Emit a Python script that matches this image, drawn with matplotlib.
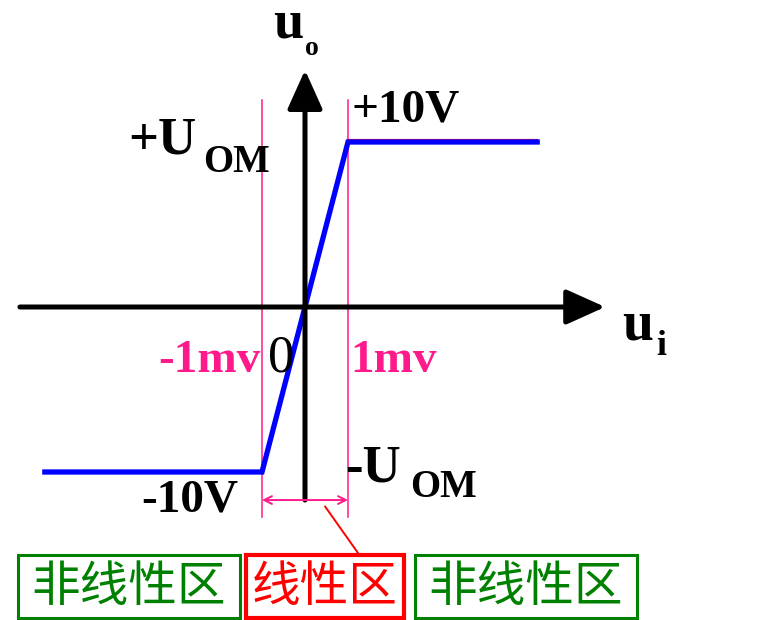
import matplotlib.pyplot as plt
from matplotlib.patches import Rectangle
import matplotlib.transforms as mtransforms

# 传输特性数据 (ui 单位 mV, uo 单位 V)
ui_curve = [-6.05, -1, 1, 5.4]
uo_curve = [-10, -10, 10, 10]
ui_limit = [-1, 1]
uo_sat = 10
region_labels = ['非线性区', '线性区', '非线性区']
region_colors = ['#008000', '#ff0000', '#008000']

W, H = 762, 620
pink = '#ff1a8c'
serif = 'Liberation Serif'
cjk = ['Noto Sans CJK SC', 'DejaVu Sans']

fig = plt.figure(figsize=(W / 100, H / 100), dpi=100)
ax = fig.add_axes([0, 0, 1, 1])
ax.axis('off')
# origem em (305, 307) px, 43 px/mV, 16.5 px/V
ax.set_xlim(-305 / 43, (W - 305) / 43)
ax.set_ylim(-(H - 307) / 16.5, 307 / 16.5)


def fx(px):
    return px / W


def fy(py):
    return 1 - py / H


# eixos com seta
arrow = dict(arrowstyle='-|>,head_length=0.6,head_width=0.27', lw=3.6,
             color='black', mutation_scale=40, shrinkA=0, shrinkB=0)
ax.annotate('', xy=(6.98, 0), xytext=(-6.63, 0), arrowprops=arrow)
ax.annotate('', xy=(0, 14.36), xytext=(0, -11.7), arrowprops=arrow)

# linhas verticais de limite
for u in ui_limit:
    ax.plot([u, u], [12.55, -12.75], color=pink, lw=1.1)
ax.annotate('', xy=(ui_limit[0], -11.7), xytext=(ui_limit[1], -11.7),
            arrowprops=dict(arrowstyle='<->', color=pink, lw=1.4,
                            mutation_scale=14, shrinkA=0, shrinkB=0))

# linha vermelha ideal + curva azul
red_tr = mtransforms.offset_copy(ax.transData, fig=fig, x=0, y=2, units='dots')
ax.plot(ui_curve[2:], [uo_sat, uo_sat], color='#ff2020', lw=1.6, transform=red_tr)
ax.plot(ui_curve, uo_curve, color='#0000ff', lw=3.8, solid_joinstyle='miter')

# ligação ao rótulo
ax.plot([0.47, 1.23], [-12.1, -14.9], color='#ff0000', lw=1.4)

# textos
tf = fig.transFigure


def txt(px, py, s, size, color='black', weight='bold', family=serif):
    fig.text(fx(px), fy(py), s, fontsize=size, color=color, fontweight=weight,
             family=family, ha='left', va='baseline')


txt(273, 38, 'u', 39)
txt(305, 55, 'o', 20)
txt(352, 122, '+10V', 34)
txt(128, 153, '+U', 38)
txt(203, 172, 'OM', 28)
txt(622, 340, 'u', 40)
txt(656, 355, 'i', 26)
txt(158, 372, '-1mv', 34, color=pink)
txt(268, 372, '0', 38, weight='normal')
txt(350, 372, '1mv', 34, color=pink)
txt(345, 482, '-U', 38)
txt(410, 497, 'OM', 28)
txt(141, 512, '-10V', 34)

# caixas das regiões
boxes = [(18, 240), (246, 404), (415, 637)]
box_lw = [2.2, 3.0, 2.2]
for (x0, x1), lab, col, lw in zip(boxes, region_labels, region_colors, box_lw):
    fig.patches.append(Rectangle((fx(x0), fy(618)), fx(x1) - fx(x0), fy(555) - fy(618),
                                 transform=tf, fill=False, edgecolor=col, lw=lw))
    fig.text(fx((x0 + x1) / 2), fy(587), lab, fontsize=35, color=col,
             family=cjk, ha='center', va='center')

fig.savefig('out.png', dpi=100)
